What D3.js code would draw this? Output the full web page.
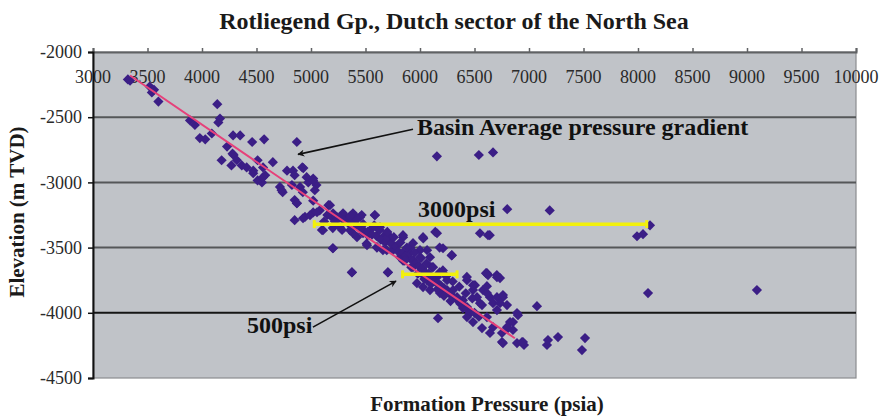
<!DOCTYPE html>
<meta charset="utf-8">
<head>
  <script src="https://d3js.org/d3.v7.min.js"></script>
</head>
<body style="margin:0;background:#fff">
<div id="viz"></div>
<script>
// Formation pressure (psia) vs elevation (m TVD)
var wells = [
  [3320,-2210],[3340,-2220],[3520,-2265],[3540,-2310],[3560,-2290],[3600,-2380],
  [4140,-2400],[3890,-2525],[3935,-2560],[4150,-2540],[4165,-2510],[3980,-2660],[4030,-2670],
  [4090,-2625],[4230,-2725],[4285,-2640],[4350,-2640],[4460,-2690],[4570,-2670],[4180,-2830],
  [4290,-2790],[4320,-2830],[4270,-2870],[4365,-2870],[4410,-2885],[4470,-2910],[4510,-2830],
  [4560,-2885],[4650,-2845],[4580,-2945],[4550,-3000],[4470,-2930],[4870,-2690],[4780,-2910],
  [4835,-2910],[4920,-2885],[4850,-2945],[4715,-3035],[4740,-3075],[4825,-3020],[4900,-3035],
  [4925,-3075],[5020,-2970],[5050,-3020],[4975,-3000],[4870,-3160],[5020,-3140],
  [4280,-2780],[4510,-2985],[4560,-2960],[4850,-3135],[4850,-3290],[4730,-3060],
  [6155,-2800],[6540,-2790],[6670,-2770],[6800,-3205],[7190,-3215],[4930,-2890],[4960,-2960],
  [5020,-2985],[5035,-3060],[4945,-3265],[5020,-3230],[5080,-3215],[5160,-3175],[5190,-3265],
  [5235,-3265],[5295,-3250],[5355,-3265],[5420,-3275],[5465,-3250],[5585,-3250],[5100,-3365],
  [5200,-3350],[5285,-3365],[5385,-3390],[5475,-3365],[5520,-3405],[5630,-3365],[5660,-3420],
  [5725,-3420],[5845,-3420],[6030,-3430],[6140,-3380],[6550,-3390],[6640,-3405],[5200,-3505],
  [5375,-3690],[5705,-3690],[5510,-3470],[5605,-3500],[5695,-3520],[5750,-3480],[5910,-3500],
  [6000,-3575],[6065,-3520],[6180,-3500],[6290,-3560],[5845,-3600],[5935,-3650],[6110,-3650],
  [6210,-3675],[6430,-3725],[6615,-3700],[6705,-3710],
  [4871,-3160],[4927,-3275],[4991,-3252],[5055,-3229],[5174,-3175],[5110,-3367],[5202,-3237],
  [5294,-3237],[5385,-3237],[5450,-3267],[5587,-3252],[5266,-3344],[5358,-3367],[5422,-3420],
  [5477,-3390],[5541,-3367],[5633,-3344],[5697,-3390],[5725,-3443],[5514,-3482],[5605,-3497],
  [5660,-3520],[5752,-3520],[5816,-3574],[5844,-3405],[5936,-3466],[6028,-3420],[6000,-3520],
  [5908,-3582],[6092,-3574],[6156,-3390],[6211,-3505],[6293,-3558],[5202,-3505],[5376,-3689],
  [5706,-3689],[6028,-3711],[6092,-3750],[6156,-3727],[6183,-3803],[6248,-3750],[6248,-3826],
  [6303,-3826],[6340,-3880],[6394,-3903],[6431,-3750],[6504,-3788],[6614,-3696],[6706,-3727],
  [6578,-3826],[6523,-3880],[6642,-3880],[6761,-3880],[6569,-3941],[6394,-3964],[6459,-4002],
  [6165,-4041],[6614,-4033],[6706,-3979],[6798,-3941],[6826,-4071],[6890,-4002],[6670,-4110],
  [6752,-4155],[6761,-4232],[6890,-4232],[6183,-3849],[6092,-3826],[6028,-3803],[5972,-3773],
  [6064,-3750],
  [6431,-4033],[6486,-4071],[6569,-4117],[6642,-4155],[6752,-4224],[6853,-4071],[6807,-4117],
  [6899,-4018],[6936,-4224],[6954,-4247],[7073,-3949],[7165,-4247],[7174,-4209],[7266,-4186],
  [7486,-4286],[7514,-4194],[6614,-3849],[6706,-3880],[6761,-3864],[6486,-3826],[6367,-3918],
  [6431,-3956],[6550,-3926],[6670,-3926],[6734,-3734],[6624,-3711],[6486,-3788],
  [8110,-3329],[7991,-3413],[8046,-3397],[8092,-3849],[9091,-3826],[6624,-3405],[6605,-3696],
  [6614,-3796],[6734,-3926],[6798,-4110],[6853,-4132],[6945,-4224]
];

// the dense band of wells along the basin gradient
var bandWells = [
  [5300,-3290],[5340,-3310],[5380,-3300],[5420,-3330],[5460,-3350],[5480,-3320],[5520,-3380],
  [5560,-3400],[5600,-3410],[5640,-3440],[5680,-3460],[5700,-3420],[5740,-3470],[5780,-3490],
  [5800,-3530],[5840,-3540],[5870,-3560],[5900,-3540],[5940,-3600],[5960,-3620],[5990,-3640],
  [6020,-3660],[6050,-3690],[6080,-3700],[6100,-3730],[6130,-3760],[6160,-3770],[6190,-3790],
  [6220,-3810],[6250,-3840],[6280,-3860],[6310,-3880],[6340,-3900],[6370,-3930],[6400,-3940],
  [6430,-3970],[6460,-3990],[6500,-4000],[6540,-4030],[5860,-3600],[5920,-3650],[5980,-3700],
  [6040,-3740],[6100,-3780],[6160,-3820],[6220,-3870],[6280,-3910],[5700,-3380],[5760,-3420],
  [5820,-3460],[5880,-3500],[5950,-3540],[6010,-3580],[6060,-3620],[6120,-3650],[6180,-3690],
  [6240,-3720],[6300,-3760],[6360,-3800],[6420,-3850],[6480,-3890],[5620,-3360],[5580,-3330],
  [5420,-3280],[5360,-3260],[5260,-3270],[5220,-3300],[5150,-3250],[5120,-3300]
];

var xTicks = [3000, 3500, 4000, 4500, 5000, 5500, 6000, 6500, 7000, 7500, 8000, 8500, 9000, 9500, 10000];
var yTicks = [-2000, -2500, -3000, -3500, -4000, -4500];
var gridLevels = [-2500, -3000, -3500, -4000];

// basin average gradient, start and end
var trendLine = [[3340, -2180], [6870, -4195]];

// pressure spans drawn in yellow
var spans = [
  { label: "3000psi", from: 5030, to: 8080, elev: -3320, textP: 5982, textE: -3267 },
  { label: "500psi", from: 5840, to: 6340, elev: -3705, textP: 4413, textE: -4155 }
];

// arrow notes: text anchor and arrow from/to, in psia / m
var notes = [
  { text: "Basin Average pressure gradient", p: 5972, e: -2639, from: [5936, -2593], to: [4881, -2785] },
  { text: "", p: 0, e: 0, from: [5018, -4110], to: [5780, -3757] }
];

var W = 882, H = 417;
var margin = { top: 52, left: 93, right: 26, bottom: 39 };
var width = W - margin.left - margin.right;   // 763
var height = H - margin.top - margin.bottom;  // 326
var serif = "'Liberation Serif', 'Times New Roman', serif";

var svg = d3.select("#viz").append("svg")
  .attr("width", W)
  .attr("height", H)
  .style("font-family", serif);

var defs = svg.append("defs");
defs.append("marker")
  .attr("id", "arrow")
  .attr("viewBox", "0 0 10 10")
  .attr("refX", 9).attr("refY", 5)
  .attr("markerWidth", 9).attr("markerHeight", 7)
  .attr("markerUnits", "userSpaceOnUse")
  .attr("orient", "auto")
  .append("path")
  .attr("d", "M0,0 L10,5 L0,10 L3,5 Z")
  .attr("fill", "#111");

svg.append("text")
  .attr("x", 454).attr("y", 29)
  .attr("text-anchor", "middle")
  .attr("font-size", 24).attr("font-weight", "bold")
  .attr("fill", "#1a1a1a")
  .text("Rotliegend Gp., Dutch sector of the North Sea");

var g = svg.append("g")
  .attr("transform", "translate(" + margin.left + "," + margin.top + ")");

var x = d3.scaleLinear().domain([3000, 10000]).range([0, width]);
var y = d3.scaleLinear().domain([-2000, -4500]).range([0, height]);

// plot area
g.append("rect")
  .attr("width", width).attr("height", height)
  .attr("fill", "#c0c3c8")
  .attr("stroke", "#8a8c90").attr("stroke-width", 1.2);

// horizontal gridlines
g.selectAll(".grid")
  .data(gridLevels)
  .enter().append("line")
  .attr("class", "grid")
  .attr("x1", 0).attr("x2", width)
  .attr("y1", function(d) { return y(d); })
  .attr("y2", function(d) { return y(d); })
  .attr("stroke", function(d) { return d == -4000 ? "#151515" : "#555759"; })
  .attr("stroke-width", 2);

// top axis (ticks point up, labels sit inside the plot)
var topAxis = g.append("g")
  .call(d3.axisTop(x).tickValues(xTicks).tickSize(4).tickFormat(""));
topAxis.select(".domain").attr("stroke", "#606264").attr("stroke-width", 2);
topAxis.selectAll(".tick line").attr("stroke", "#606264").attr("stroke-width", 1.5);

g.selectAll(".xlab")
  .data(xTicks)
  .enter().append("text")
  .attr("class", "xlab")
  .attr("x", function(d) { return x(d); })
  .attr("y", 31)
  .attr("text-anchor", "middle")
  .attr("font-size", 18)
  .attr("fill", "#2a2a2a")
  .text(function(d) { return d; });

// left axis
var leftAxis = g.append("g")
  .call(d3.axisLeft(y).tickValues(yTicks).tickSize(5).tickPadding(6)
    .tickFormat(function(d) { return d; }));
leftAxis.select(".domain").attr("stroke", "#111").attr("stroke-width", 2);
leftAxis.selectAll(".tick line").attr("stroke", "#111").attr("stroke-width", 1.5);
leftAxis.selectAll(".tick text")
  .attr("font-size", 18)
  .attr("font-family", serif)
  .attr("fill", "#2a2a2a");

// wells
var diamond = d3.symbol().type(d3.symbolSquare).size(52);
g.selectAll(".well")
  .data(wells.concat(bandWells))
  .enter().append("path")
  .attr("class", "well")
  .attr("d", diamond)
  .attr("transform", function(d) {
    return "translate(" + x(d[0]) + "," + y(d[1]) + ") rotate(45)";
  })
  .attr("fill", "#3b1e86");

// basin average gradient
g.append("line")
  .attr("x1", x(trendLine[0][0])).attr("y1", y(trendLine[0][1]))
  .attr("x2", x(trendLine[1][0])).attr("y2", y(trendLine[1][1]))
  .attr("stroke", "#e6417a")
  .attr("stroke-width", 2);

// yellow pressure spans with end caps
spans.forEach(function(s) {
  g.append("line")
    .attr("x1", x(s.from)).attr("x2", x(s.to))
    .attr("y1", y(s.elev)).attr("y2", y(s.elev))
    .attr("stroke", "#f2f00c").attr("stroke-width", 3.5);
  [s.from, s.to].forEach(function(p) {
    g.append("line")
      .attr("x1", x(p)).attr("x2", x(p))
      .attr("y1", y(s.elev) - 4).attr("y2", y(s.elev) + 4)
      .attr("stroke", "#f2f00c").attr("stroke-width", 3);
  });
  g.append("text")
    .attr("x", x(s.textP)).attr("y", y(s.textE))
    .attr("font-size", 24).attr("font-weight", "bold")
    .attr("fill", "#111")
    .text(s.label);
});

// arrow notes
notes.forEach(function(n) {
  g.append("line")
    .attr("x1", x(n.from[0])).attr("y1", y(n.from[1]))
    .attr("x2", x(n.to[0])).attr("y2", y(n.to[1]))
    .attr("stroke", "#111").attr("stroke-width", 1.6)
    .attr("marker-end", "url(#arrow)");
  if (n.text) {
    g.append("text")
      .attr("x", x(n.p)).attr("y", y(n.e))
      .attr("font-size", 24).attr("font-weight", "bold")
      .attr("fill", "#111")
      .text(n.text);
  }
});

// axis titles
svg.append("text")
  .attr("x", 487).attr("y", 411)
  .attr("text-anchor", "middle")
  .attr("font-size", 21).attr("font-weight", "bold")
  .attr("fill", "#1a1a1a")
  .text("Formation Pressure (psia)");

svg.append("text")
  .attr("transform", "translate(24,212) rotate(-90)")
  .attr("text-anchor", "middle")
  .attr("font-size", 21).attr("font-weight", "bold")
  .attr("fill", "#1a1a1a")
  .text("Elevation (m TVD)");
</script>
</body>
